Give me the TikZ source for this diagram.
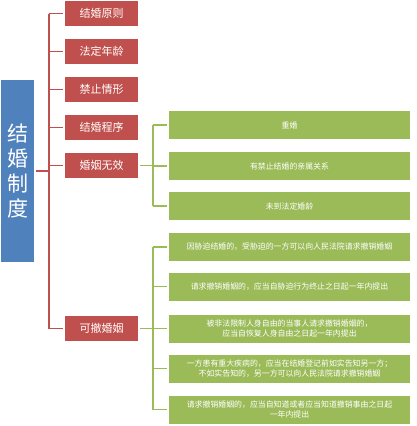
\documentclass[tikz,border=0pt]{standalone}
\usepackage{fontspec}
\setmainfont{Noto Sans CJK SC}
\usetikzlibrary
  {
    positioning,              % place nodes relative to other nodes
    calc,
  }

\definecolor{rootblue}{HTML}{4F81BD}
\definecolor{catred}{HTML}{C0504D}
\definecolor{leafgreen}{HTML}{9BBB59}

\tikzset{
  rootbox/.style={fill=rootblue, text=white, minimum width=33pt, minimum height=182pt,
    inner sep=0pt, font=\fontsize{21}{25}\selectfont, align=center},
  catbox/.style={fill=catred, text=white, minimum width=73pt, minimum height=25pt,
    inner sep=0pt, font=\fontsize{11}{13}\selectfont},
  leafbox/.style={fill=leafgreen, text=white, minimum width=241pt, minimum height=28pt,
    inner sep=0pt, font=\fontsize{7.9}{9.5}\selectfont, align=center},
  redline/.style={draw=catred, line width=1.5pt},
  greenline/.style={draw=leafgreen, line width=1.5pt},
}

\begin{document}
\begin{tikzpicture}[x=1pt,y=-1pt]
    \useasboundingbox (0,0) rectangle (416,426);

    \node [rootbox] (root) at (17.5,171) {结\\婚\\制\\度};

    % categories
    \node [catbox] (c1) at (101.5,13.5)  {结婚原则};
    \node [catbox] (c2) at (101.5,51.5)  {法定年龄};
    \node [catbox] (c3) at (101.5,89.5)  {禁止情形};
    \node [catbox] (c4) at (101.5,127.5) {结婚程序};
    \node [catbox] (c5) at (101.5,165.5) {婚姻无效};
    \node [catbox] (c6) at (101.5,328.5) {可撤婚姻};

    % leaves of 婚姻无效
    \node [leafbox] (w1) at (289.5,125) {重婚};
    \node [leafbox] (w2) at (289.5,166) {有禁止结婚的亲属关系};
    \node [leafbox] (w3) at (289.5,206) {未到法定婚龄};

    % leaves of 可撤婚姻
    \node [leafbox] (k1) at (289.5,247)   {因胁迫结婚的，受胁迫的一方可以向人民法院请求撤销婚姻};
    \node [leafbox] (k2) at (289.5,286.5) {请求撤销婚姻的，应当自胁迫行为终止之日起一年内提出};
    \node [leafbox] (k3) at (289.5,328.5) {被非法限制人身自由的当事人请求撤销婚姻的，\\应当自恢复人身自由之日起一年内提出};
    \node [leafbox] (k4) at (289.5,368.5) {一方患有重大疾病的，应当在结婚登记前如实告知另一方；\\不如实告知的，另一方可以向人民法院请求撤销婚姻};
    \node [leafbox] (k5) at (289.5,409.5) {请求撤销婚姻的，应当自知道或者应当知道撤销事由之日起\\一年内提出};

    % red tree
    \coordinate (rb) at (49,0);
    \draw [redline, shorten <=2pt] (root.east) -- (rb |- root);
    \draw [redline] (rb |- c1) -- (rb |- c6);
    \foreach \c in {c1,c2,c3,c4,c5,c6}
      \draw [redline, shorten >=2pt] (rb |- \c) -- (\c.west);

    % green trees
    \coordinate (gb) at (153,0);
    \draw [greenline, shorten <=2pt] (c5.east) -- (gb |- c5);
    \draw [greenline] (gb |- w1) -- (gb |- w3);
    \draw [greenline, shorten <=2pt] (c6.east) -- (gb |- c6);
    \draw [greenline] (gb |- k1) -- (gb |- k5);
    \foreach \l in {w1,w2,w3,k1,k2,k3,k4,k5}
      \draw [greenline, shorten >=2pt] (gb |- \l) -- (\l.west);

  \end{tikzpicture}
\end{document}
